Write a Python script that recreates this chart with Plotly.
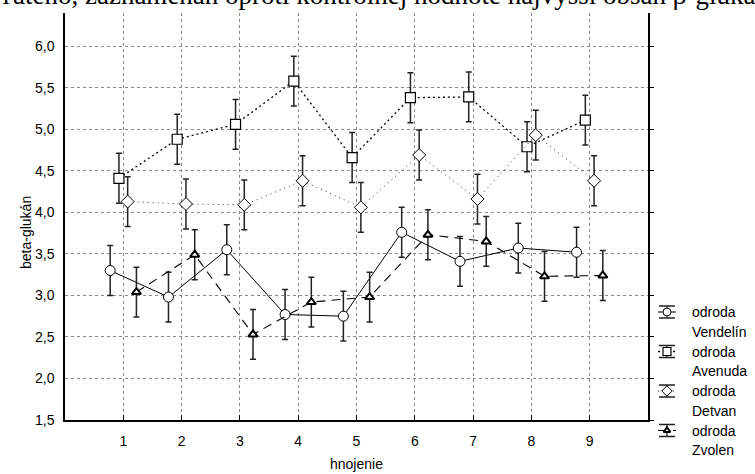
import plotly.graph_objects as go

# hnojenie (fertilisation variant) on the x axis
hnojenie = [1, 2, 3, 4, 5, 6, 7, 8, 9]
x_tick_labels = ["1", "2", "3", "4", "5", "6", "7", "8", "9"]
y_ticks = [1.5, 2.0, 2.5, 3.0, 3.5, 4.0, 4.5, 5.0, 5.5, 6.0]

# beta-glucan means per variety
vendelin = [3.30, 2.98, 3.55, 2.77, 2.75, 3.76, 3.41, 3.57, 3.52]
avenuda = [4.41, 4.88, 5.06, 5.58, 4.66, 5.38, 5.39, 4.79, 5.11]
detvan = [4.13, 4.10, 4.09, 4.38, 4.06, 4.69, 4.16, 4.93, 4.38]
zvolen = [3.04, 3.49, 2.53, 2.92, 2.98, 3.73, 3.65, 3.23, 3.24]

# standard errors (half-length of the whiskers)
se_vendelin = [0.30, 0.30, 0.30, 0.30, 0.30, 0.30, 0.30, 0.30, 0.30]
se_avenuda = [0.30, 0.30, 0.30, 0.30, 0.30, 0.30, 0.30, 0.30, 0.30]
se_detvan = [0.30, 0.30, 0.30, 0.30, 0.30, 0.30, 0.30, 0.30, 0.30]
se_zvolen = [0.30, 0.30, 0.30, 0.30, 0.30, 0.30, 0.30, 0.30, 0.30]

variety_names = ["Vendelín", "Avenuda", "Detvan", "Zvolen"]
legend_prefix = "odroda"
header_text = "ľateno, zaznamenaň oproti kontrolnej hodnote najvyšší obsah β-glukán"

W, H = 755, 474
ML, MR, MT, MB = 65, 0, 13, 0
PLOT_RIGHT = 648
PLOT_BOTTOM = 420
PW = W - ML - MR
PH = H - MT - MB

FONT = "Liberation Sans, Arial, sans-serif"
FS = 14

styles = [
    dict(line=dict(color="black", width=1, dash="solid"),
         marker=dict(symbol="circle", size=10, color="white", line=dict(color="black", width=1))),
    dict(line=dict(color="black", width=1.3, dash="2px,3px"),
         marker=dict(symbol="square", size=10, color="white", line=dict(color="black", width=1.2))),
    dict(line=dict(color="#333333", width=1, dash="1px,4px"),
         marker=dict(symbol="diamond", size=10, color="white", line=dict(color="black", width=1))),
    dict(line=dict(color="black", width=1.1, dash="9px,6px"),
         marker=dict(symbol="triangle-up", size=8, color="white", line=dict(color="black", width=2))),
]
series = [vendelin, avenuda, detvan, zvolen]
errors = [se_vendelin, se_avenuda, se_detvan, se_zvolen]
offsets = [-0.225, -0.075, 0.075, 0.225]

fig = go.Figure()

for vals, err, off, st, name in zip(series, errors, offsets, styles, variety_names):
    fig.add_trace(go.Scatter(
        x=[h + off for h in hnojenie], y=vals,
        mode="lines+markers", name=f"{legend_prefix} {name}",
        line=st["line"], marker=st["marker"],
        error_y=dict(type="data", array=err, visible=True,
                     color="#222222", thickness=1.5, width=3),
        showlegend=False, xaxis="x", yaxis="y", cliponaxis=False,
    ))

# hand-drawn legend in the right margin (axis in page-pixel units)
leg_x0, leg_x1 = 658, 676
leg_xc = (leg_x0 + leg_x1) / 2
leg_text_x = 690
leg_top = 312
leg_step = 39.5
line_gap = 19.5
annotations = []
for i, (st, name) in enumerate(zip(styles, variety_names)):
    yc = leg_top + i * leg_step
    fig.add_trace(go.Scatter(x=[leg_x0, leg_x1], y=[yc, yc], mode="lines",
                             line=st["line"], showlegend=False, hoverinfo="skip",
                             xaxis="x3", yaxis="y3"))
    fig.add_trace(go.Scatter(x=[leg_xc], y=[yc], mode="markers",
                             marker=dict(st["marker"], size=st["marker"]["size"] - 2),
                             error_y=dict(type="constant", value=6, color="#222222",
                                          thickness=1.3, width=8),
                             showlegend=False, hoverinfo="skip",
                             xaxis="x3", yaxis="y3"))
    for j, txt in enumerate([legend_prefix, name]):
        annotations.append(dict(
            x=leg_text_x, y=yc + j * line_gap, xref="x3", yref="y3",
            text=txt, showarrow=False, xanchor="left", yanchor="middle",
            font=dict(family=FONT, size=FS, color="black"),
        ))

# axis titles and the header line of text
annotations.append(dict(
    x=(26 - ML) / PW, y=(H - 233) / PH, xref="paper", yref="paper",
    text="beta-glukán", textangle=-90, showarrow=False,
    xanchor="center", yanchor="middle", font=dict(family=FONT, size=FS, color="black"),
))
annotations.append(dict(
    x=((ML + PLOT_RIGHT) / 2 - ML) / PW, y=(H - 464) / PH, xref="paper", yref="paper",
    text="hnojenie", showarrow=False,
    xanchor="center", yanchor="middle", font=dict(family=FONT, size=FS, color="black"),
))
annotations.append(dict(
    x=-ML / PW, y=(H - 12) / PH, xref="paper", yref="paper",
    text=header_text, showarrow=False, xanchor="left", yanchor="bottom",
    font=dict(family="Liberation Serif, Times New Roman, serif", size=27, color="black"),
))

x_dom = [0, (PLOT_RIGHT - ML) / PW]
y_dom = [(H - PLOT_BOTTOM) / PH, 1]
grid = dict(showgrid=True, gridcolor="#8a8a8a", gridwidth=1, griddash="dot")

fig.update_layout(
    width=W, height=H,
    margin=dict(l=ML, r=MR, t=MT, b=MB, autoexpand=False),
    paper_bgcolor="white", plot_bgcolor="white",
    separators=", ",
    font=dict(family=FONT, size=FS, color="black"),
    xaxis=dict(domain=x_dom, range=[0, 10], tickvals=hnojenie, ticktext=x_tick_labels,
               ticks="inside", ticklen=5, tickcolor="black", showline=True,
               linecolor="black", linewidth=1.5, zeroline=False, anchor="y",
               ticklabelstandoff=7, tickfont=dict(size=FS), **grid),
    yaxis=dict(domain=y_dom, range=[1.5, 6.4], tickvals=y_ticks, tickformat=".1f",
               ticks="", showline=True, linecolor="black", linewidth=1.5,
               zeroline=False, anchor="x", ticklabelstandoff=6,
               tickfont=dict(size=FS), **grid),
    yaxis2=dict(overlaying="y", side="right", anchor="x", range=[1.5, 6.4],
                tickvals=y_ticks, ticks="outside", ticklen=4, tickcolor="black",
                showticklabels=False, showline=True, linecolor="black",
                linewidth=1.5, showgrid=False, zeroline=False),
    xaxis3=dict(domain=[(PLOT_RIGHT - ML) / PW, 1], range=[PLOT_RIGHT, W],
                visible=False, anchor="y3"),
    yaxis3=dict(domain=[0, 1], range=[H, MT], visible=False, anchor="x3"),
    annotations=annotations,
)

# dummy trace so the right-hand axis is drawn
fig.add_trace(go.Scatter(x=[None], y=[None], xaxis="x", yaxis="y2", showlegend=False))

fig.write_html("out.html")
